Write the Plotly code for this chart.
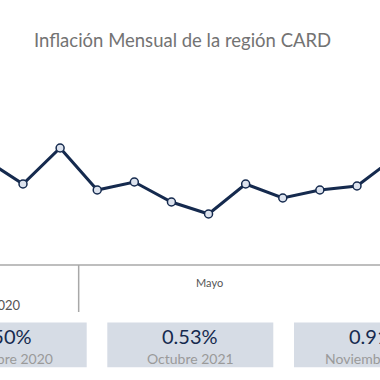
import plotly.graph_objects as go

# ---- data ----
meses = ["Oct 2020", "Nov 2020", "Dic 2020", "Ene 2021", "Feb 2021", "Mar 2021",
         "Abr 2021", "May 2021", "Jun 2021", "Jul 2021", "Ago 2021", "Sep 2021"]
inflacion = [0.44, 0.32, 0.50, 0.29, 0.33, 0.23, 0.17, 0.32, 0.25, 0.29, 0.31, 0.45]
kpi_valores = ["0.50%", "0.53%", "0.91%"]
kpi_meses = ["Diciembre 2020", "Octubre 2021", "Noviembre 2021"]
etiqueta_mes = "Mayo"
etiqueta_anio = "2020"
titulo = "Inflación Mensual de la región CARD"

W = H = 380
NAVY = "#152a4e"
FONT = "Lato"


def py(px):
    """pixel y (from top) -> paper y"""
    return 1 - px / H


def pxx(px):
    return px / W


fig = go.Figure(
    go.Scatter(
        x=meses,
        y=inflacion,
        mode="lines+markers",
        line=dict(color=NAVY, width=3),
        marker=dict(size=8, color="#dde3ee", line=dict(color=NAVY, width=1.5)),
        cliponaxis=True,
        hoverinfo="x+y",
    )
)

shapes = []
annotations = []

# axis line and year divider
shapes.append(dict(type="line", xref="paper", yref="paper", x0=-0.1, x1=1.1,
                   y0=py(265), y1=py(265), line=dict(color="#a8a8a8", width=1.5)))
shapes.append(dict(type="line", xref="x", yref="paper", x0=2.5, x1=2.5,
                   y0=py(265), y1=py(312), line=dict(color="#a8a8a8", width=1.5)))

annotations.append(dict(text=etiqueta_mes, xref="paper", yref="paper", x=pxx(209), y=py(282),
                        showarrow=False, xanchor="center", yanchor="middle",
                        font=dict(family=FONT, size=11, color="#555555")))
annotations.append(dict(text=etiqueta_anio, xref="paper", yref="paper", x=pxx(5), y=py(305),
                        showarrow=False, xanchor="center", yanchor="middle",
                        font=dict(family=FONT, size=13, color="#555555")))

# title
annotations.append(dict(text=titulo, xref="paper", yref="paper", x=pxx(182.5), y=py(40),
                        showarrow=False, xanchor="center", yanchor="middle",
                        font=dict(family=FONT, size=18.5, color="#737373")))

# KPI cards
centros = [3.7, 190.3, 377.0]
ancho = 166
for c, v, m in zip(centros, kpi_valores, kpi_meses):
    shapes.append(dict(type="rect", xref="paper", yref="paper",
                       x0=pxx(c - ancho / 2), x1=pxx(c + ancho / 2),
                       y0=py(367.3), y1=py(322.5), fillcolor="#d6dce5",
                       line=dict(width=0), layer="below"))
    annotations.append(dict(text=v, xref="paper", yref="paper", x=pxx(c), y=py(336),
                            showarrow=False, xanchor="center", yanchor="middle",
                            font=dict(family=FONT, size=20, color=NAVY)))
    annotations.append(dict(text=m, xref="paper", yref="paper", x=pxx(c), y=py(358),
                            showarrow=False, xanchor="center", yanchor="middle",
                            font=dict(family=FONT, size=14, color="#9a9a9a")))

fig.update_layout(
    width=W, height=H,
    margin=dict(l=0, r=0, t=0, b=0),
    paper_bgcolor="white", plot_bgcolor="white",
    showlegend=False,
    xaxis=dict(type="category", domain=[0, 1], range=[0.3802, 10.620], visible=False),
    yaxis=dict(domain=[py(250), py(60)], range=[-0.01, 0.94], visible=False),
    shapes=shapes,
    annotations=annotations,
)

fig.write_html(
    "out.html",
    config={"displayModeBar": False},
    post_script="document.body.style.margin='0';document.body.style.overflow='hidden';",
)
